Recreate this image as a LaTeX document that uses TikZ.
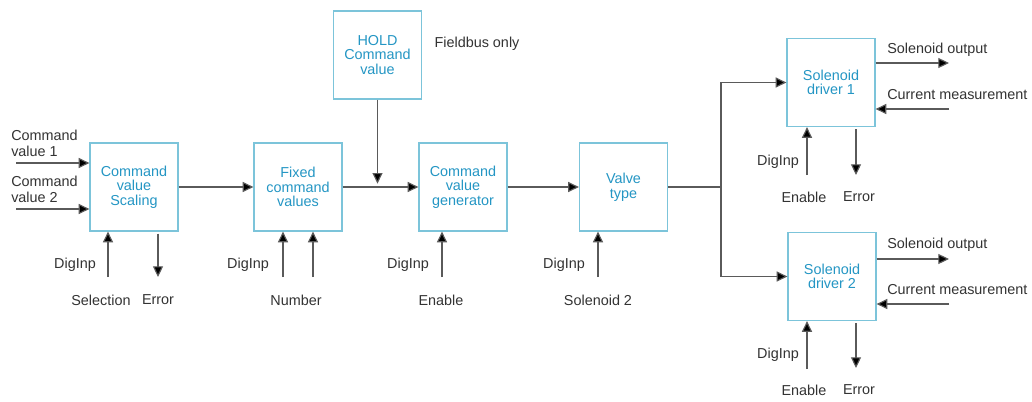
\documentclass[tikz,border=0pt]{standalone}
\usepackage{fontspec}
\setmainfont{Liberation Sans}
\usetikzlibrary{arrows.meta}
\definecolor{boxc}{HTML}{7CC4DA}
\definecolor{txtc}{HTML}{2496C4}
\definecolor{linec}{HTML}{5A5A5A}
\begin{document}
\begin{tikzpicture}[x=0.75pt,y=-0.75pt,
  blk/.style={draw=boxc,line width=0.9pt,minimum width=66pt,minimum height=66pt,inner sep=0pt,
    align=center,text=txtc,font=\fontsize{10.8}{11}\selectfont},
  lbl/.style={inner sep=0pt,align=left,text=black!80,font=\fontsize{10.8}{11.8}\selectfont},
  con/.style={draw=linec,line width=0.85pt,-{Triangle[length=8pt,width=7.5pt,fill=black]}},
  ln/.style={draw=linec,line width=0.85pt}]
\useasboundingbox (0,0) rectangle (1032,401);
\fill[white] (0,0) rectangle (1032,401);
% blocks
\node[blk] (b1) at (134,187) {Command\\value\\Scaling};
\node[blk] (b2) at (298,187) {Fixed\\command\\values};
\node[blk] (hold) at (377.5,55) {HOLD\\Command\\value};
\node[blk] (b3) at (463,187) {Command\\value\\generator};
\node[blk] (b4) at (623.5,187) {Valve\\type};
\node[blk] (sd1) at (831,82.5) {Solenoid\\driver 1};
\node[blk] (sd2) at (832,276.5) {Solenoid\\driver 2};
% labels
\node[lbl,anchor=west] (cv1) at (11,143) {Command\\value 1};
\node[lbl,anchor=west] (cv2) at (11,189) {Command\\value 2};
\node[lbl] (fb) at (477,44) {Fieldbus only};
\node[lbl] (d1) at (75,265) {DigInp};
\node[lbl] (sel) at (101,300) {Selection};
\node[lbl] (e1) at (158,300) {Error};
\node[lbl] (d2) at (248,265) {DigInp};
\node[lbl] (num) at (296,300) {Number};
\node[lbl] (d3) at (408,265) {DigInp};
\node[lbl] (en3) at (441,300) {Enable};
\node[lbl] (d4) at (564,265) {DigInp};
\node[lbl] (sol2) at (598,300) {Solenoid 2};
\node[lbl,anchor=west] (so1) at (887,50) {Solenoid output};
\node[lbl,anchor=west] (cm1) at (887,95) {Current measurement};
\node[lbl] (d5) at (778,162) {DigInp};
\node[lbl] (en5) at (804,197) {Enable};
\node[lbl] (er5) at (859,197) {Error};
\node[lbl,anchor=west] (so2) at (887,245) {Solenoid output};
\node[lbl,anchor=west] (cm2) at (887,290) {Current measurement};
\node[lbl] (d6) at (778,355) {DigInp};
\node[lbl] (en6) at (804,390) {Enable};
\node[lbl] (er6) at (859,390) {Error};
% free ends
\coordinate (i1) at (16,163);
\coordinate (i2) at (16,209);
\coordinate (u1) at (108,277);
\coordinate (o1) at (158,277);
\coordinate (u2a) at (283,277);
\coordinate (u2b) at (313,277);
\coordinate (u3) at (442,277);
\coordinate (u4) at (598,277);
\coordinate (sp) at (721,187);
\coordinate (so1e) at (949,63);
\coordinate (cm1s) at (949,109);
\coordinate (u5) at (807,175);
\coordinate (o5) at (856,175);
\coordinate (so2e) at (949,259);
\coordinate (cm2s) at (949,304);
\coordinate (u6) at (807,369);
\coordinate (o6) at (856,368);
% connectors
\draw[con] (i1) -- (i1 -| b1.west);
\draw[con] (i2) -- (i2 -| b1.west);
\draw[con] (b1) -- (b2);
\draw[con] (u1) -- (u1 |- b1.south);
\draw[con,shorten <=1.5pt] (o1 |- b1.south) -- (o1);
\draw[con] (u2a) -- (u2a |- b2.south);
\draw[con] (u2b) -- (u2b |- b2.south);
\draw[con] (b2) -- (b3);
\draw[con,shorten >=2.5pt] (hold) -- (hold |- b3.west);
\draw[con] (u3) -- (u3 |- b3.south);
\draw[con] (b3) -- (b4);
\draw[con] (u4) -- (u4 |- b4.south);
\draw[ln] (b4.east) -- (sp);
\draw[con] (sp) |- (sd1.west);
\draw[con] (sp) |- (sd2.west);
\draw[con] (so1e -| sd1.east) -- (so1e);
\draw[con] (cm1s) -- (cm1s -| sd1.east);
\draw[con] (u5) -- (u5 |- sd1.south);
\draw[con,shorten <=1.5pt] (o5 |- sd1.south) -- (o5);
\draw[con] (so2e -| sd2.east) -- (so2e);
\draw[con] (cm2s) -- (cm2s -| sd2.east);
\draw[con] (u6) -- (u6 |- sd2.south);
\draw[con,shorten <=1.5pt] (o6 |- sd2.south) -- (o6);
\end{tikzpicture}
\end{document}
